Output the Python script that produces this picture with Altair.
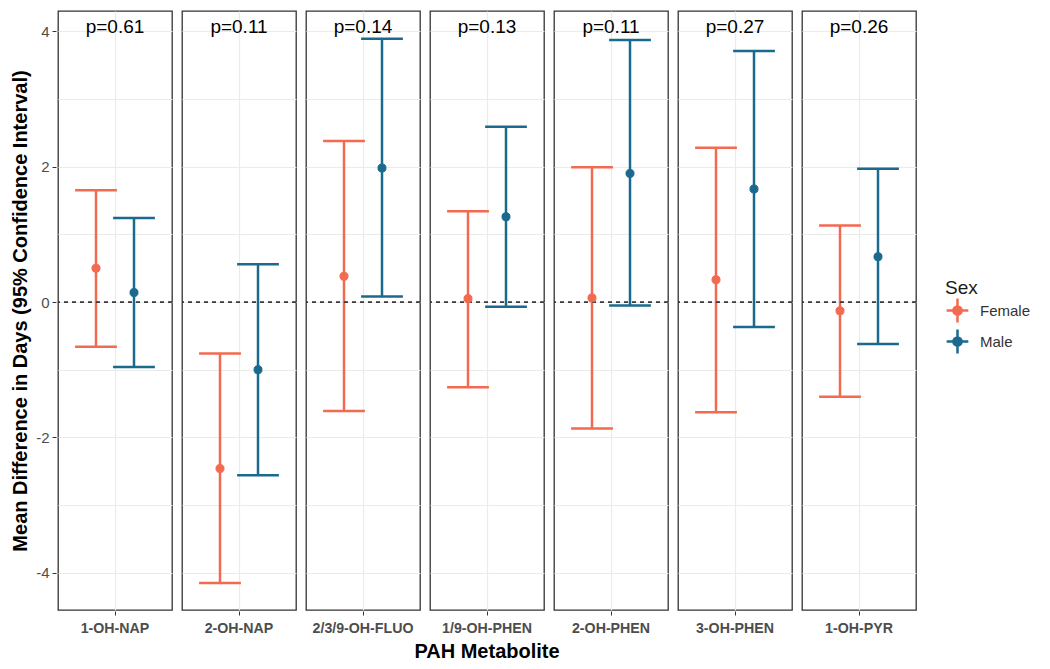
import altair as alt
import pandas as pd

metabolites = ["1-OH-NAP", "2-OH-NAP", "2/3/9-OH-FLUO", "1/9-OH-PHEN",
               "2-OH-PHEN", "3-OH-PHEN", "1-OH-PYR"]
p_labels = ["p=0.61", "p=0.11", "p=0.14", "p=0.13", "p=0.11", "p=0.27", "p=0.26"]

female_est = [0.50, -2.46, 0.38, 0.05, 0.06, 0.33, -0.13]
female_lo = [-0.66, -4.15, -1.61, -1.26, -1.87, -1.63, -1.40]
female_hi = [1.65, -0.76, 2.38, 1.34, 1.99, 2.28, 1.13]

male_est = [0.14, -1.00, 1.98, 1.26, 1.90, 1.67, 0.67]
male_lo = [-0.96, -2.56, 0.08, -0.07, -0.05, -0.37, -0.62]
male_hi = [1.24, 0.56, 3.89, 2.59, 3.87, 3.71, 1.97]

sexes = ["Female", "Male"]
colors = ["#F26A4F", "#1A6A8D"]

rows = []
for i, m in enumerate(metabolites):
    rows.append(dict(metabolite=m, sex="Female", est=female_est[i],
                     lo=female_lo[i], hi=female_hi[i], p=p_labels[i]))
    rows.append(dict(metabolite=m, sex="Male", est=male_est[i],
                     lo=male_lo[i], hi=male_hi[i], p=p_labels[i]))
df = pd.DataFrame(rows)

FONT = "Liberation Sans"
legend_path = ("M-1,0L1,0M0,-1.1L0,1.1"
               "M0.38,0A0.38,0.38,0,1,1,-0.38,0A0.38,0.38,0,1,1,0.38,0Z")

color_scale = alt.Scale(domain=sexes, range=colors)
legend = alt.Legend(title="Sex", orient="none", legendX=887, legendY=268,
                    symbolType=legend_path, symbolSize=470, symbolStrokeWidth=2.5,
                    titleFontSize=19, titleFontWeight="normal", titleColor="#1A1A1A",
                    labelFontSize=15, labelColor="#333333", titleFont=FONT,
                    labelFont=FONT, rowPadding=-4, titlePadding=0, labelOffset=10)
color = alt.Color("sex:N", scale=color_scale, legend=legend)
stroke = alt.Stroke("sex:N", scale=color_scale, legend=legend)

x_axis = alt.Axis(values=[0], labels=False, title=None, grid=True, domain=False,
                  tickSize=4, tickColor="#333333", gridColor="#EBEBEB", gridWidth=1.2)
x_scale = alt.Scale(domain=[-1.5, 1.5], nice=False, zero=False)
y_scale = alt.Scale(domain=[-4.55, 4.3], nice=False, zero=False)
y_axis = alt.Axis(values=[-4, -3, -2, -1, 0, 1, 2, 3, 4], grid=True,
                  labelExpr="datum.value % 2 == 0 ? toString(datum.value) : ''",
                  tickColor={"condition": {"test": "datum.value % 2 == 0", "value": "#333333"},
                             "value": "transparent"},
                  gridColor="#EBEBEB", gridWidth=1.2, domain=False, tickSize=4,
                  labelFontSize=15, labelColor="#4D4D4D", labelFont=FONT,
                  titleFontSize=20, titleFontWeight="bold", titleColor="#000000",
                  titleFont=FONT, titlePadding=5, labelPadding=3)
y_title = "Mean Difference in Days (95% Confidence Interval)"

base = (alt.Chart()
        .transform_calculate(pos="datum.sex == 'Female' ? -0.5 : 0.5")
        .transform_calculate(cap_l="datum.pos - 0.55")
        .transform_calculate(cap_r="datum.pos + 0.55"))

bars = base.mark_rule(strokeWidth=2.5).encode(
    x=alt.X("pos:Q", scale=x_scale, axis=x_axis),
    y=alt.Y("lo:Q", scale=y_scale, axis=y_axis, title=y_title),
    y2="hi:Q",
    color=color)

zero = base.mark_rule(strokeDash=[4, 4], color="#333333", strokeWidth=1.3).encode(
    y=alt.datum(0))

cap_hi = base.mark_rule(strokeWidth=2.5).encode(
    x=alt.X("cap_l:Q"), x2="cap_r:Q", y=alt.Y("hi:Q"), color=color)
cap_lo = base.mark_rule(strokeWidth=2.5).encode(
    x=alt.X("cap_l:Q"), x2="cap_r:Q", y=alt.Y("lo:Q"), color=color)

points = base.mark_point(filled=True, size=65, opacity=1, strokeWidth=1).encode(
    x=alt.X("pos:Q"), y=alt.Y("est:Q"), color=color, stroke=stroke)

text = base.transform_filter("datum.sex == 'Female'").mark_text(
    fontSize=19, font=FONT, color="#000000", baseline="middle").encode(
    x=alt.datum(0), y=alt.datum(4.06), text="p:N")

layered = alt.layer(bars, zero, cap_hi, cap_lo, points, text, data=df).properties(
    width=114, height=599)

chart = layered.facet(
    column=alt.Column("metabolite:N", sort=metabolites,
                      header=alt.Header(labelOrient="bottom", titleOrient="bottom",
                                        labelFontWeight="bold", labelFontSize=14.2,
                                        labelColor="#4D4D4D", labelFont=FONT,
                                        labelPadding=6,
                                        title="PAH Metabolite", titleFontSize=20,
                                        titleFontWeight="bold", titleColor="#000000",
                                        titleFont=FONT, titlePadding=-4)),
    spacing=6
).properties(
    padding={"left": 2, "top": 2, "right": 2, "bottom": 2}
).configure_view(stroke="#333333", strokeWidth=1.3)

chart.save("out.html", embed_options={"renderer": "svg", "actions": False})
